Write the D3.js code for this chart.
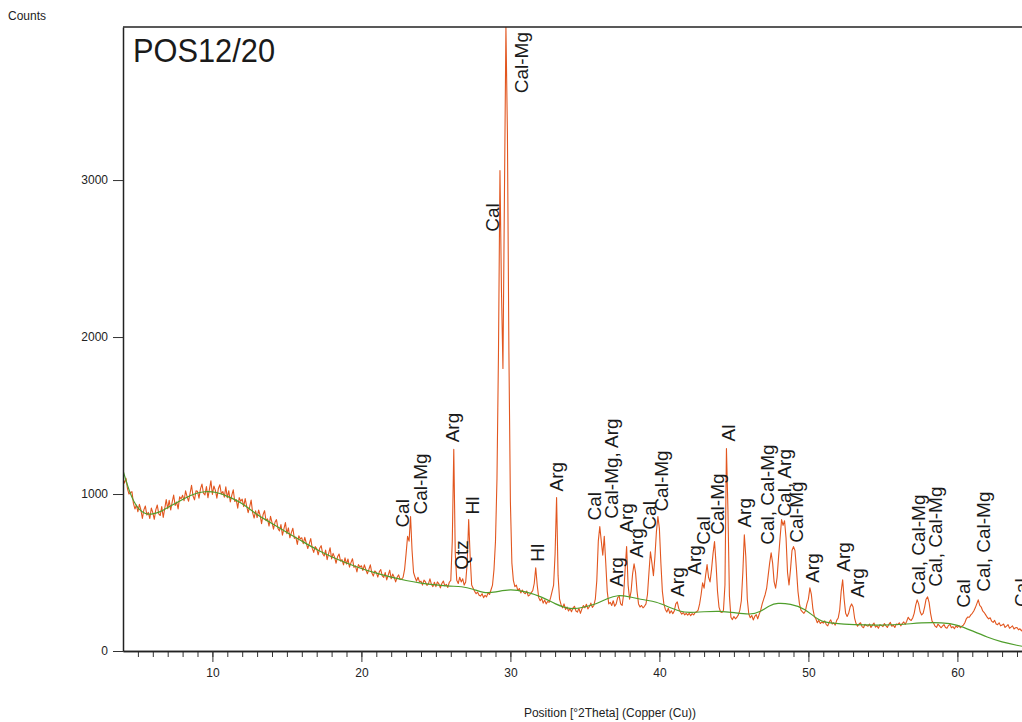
<!DOCTYPE html>
<html>
<head>
<meta charset="utf-8">
<script src="https://cdn.jsdelivr.net/npm/d3@7"></script>
<style>
body { margin: 0; background: #fff; }
svg { display: block; font-family: Arial, "Liberation Sans", sans-serif; }
</style>
</head>
<body>
<svg id="chart" width="1022" height="722"></svg>
<script>
// scan: 4 to 64.9 deg 2theta, step 0.1
var scanStart = 4;
var scanStep = 0.1;
var obsCounts = [
    1095,1070,1100,1035,1000,1010,1015,940,905,930,   // 4
    887,934,900,844,899,924,866,883,844,911,          // 5
    881,839,899,930,873,863,920,851,907,965,          // 6
    906,960,898,948,993,927,949,905,982,969,          // 7
    992,957,1020,984,954,1003,1056,987,963,1020,      // 8
    1017,974,1033,1063,1005,994,1048,976,1029,1084,   // 9
    997,1051,1023,974,1034,1059,1000,1016,980,1046,   // 10
    976,1021,950,991,1027,952,964,910,977,954,        // 11
    967,920,971,923,881,918,961,881,847,893,          // 12
    850,898,866,811,868,894,830,842,796,858,          // 13
    820,776,820,837,781,765,805,738,778,818,          // 14
    747,784,721,754,782,717,726,679,734,714,          // 15
    721,684,724,688,653,684,716,655,628,665,          // 16
    652,613,654,671,620,605,643,582,620,658,          // 17
    587,622,598,559,600,618,573,582,549,593,          // 18
    554,586,534,563,588,533,542,504,551,535,          // 19
    543,513,549,519,492,519,549,498,477,510,          // 20
    501,471,504,519,479,469,500,453,483,515,          // 21
    460,490,470,440,470,485,455,458,470,520,          // 22
    620,730,700,856,640,500,470,445,470,440,          // 23
    445,420,452,440,418,428,460,425,410,438,          // 24
    410,440,428,402,430,446,415,425,405,438,          // 25
    450,700,1285,620,450,430,470,440,460,420,         // 26
    440,560,837,600,420,400,380,365,375,355,          // 27
    350,365,340,355,345,370,360,390,420,520,          // 28
    700,1100,1900,3060,2300,1800,2900,3975,3300,1900, // 29
    950,560,450,410,420,385,398,370,388,372,          // 30
    365,382,350,358,372,385,430,530,420,340,          // 31
    320,335,305,325,300,315,310,340,380,420,          // 32
    620,978,480,330,295,275,300,265,280,255,          // 33
    270,250,275,285,255,248,272,240,268,290,          // 34
    275,298,268,282,305,278,290,330,450,700,          // 35
    792,700,610,730,560,380,300,310,290,320,          // 36
    285,300,340,350,300,290,360,520,665,420,          // 37
    330,380,490,555,500,380,300,280,290,275,          // 38
    285,300,360,500,632,560,480,600,760,856,          // 39
    780,560,380,300,265,248,272,240,256,238,          // 40
    255,300,313,270,250,235,245,230,240,228,          // 41
    240,225,238,230,245,250,260,300,360,434,          // 42
    400,480,550,470,440,520,620,697,560,380,          // 43
    280,250,245,260,420,1290,900,350,215,200,         // 44
    220,205,215,230,260,320,500,741,600,330,          // 45
    236,212,226,198,220,232,205,235,260,300,          // 46
    330,360,400,480,560,626,560,440,400,470,          // 47
    600,720,837,800,830,720,500,420,520,640,          // 48
    665,640,520,380,300,260,250,240,255,300,          // 49
    330,402,360,270,220,205,180,195,175,185,          // 50
    178,192,168,160,185,198,172,180,165,195,          // 51
    210,260,380,454,330,240,220,240,280,300,          // 52
    280,210,175,158,172,180,155,148,170,162,          // 53
    158,172,150,165,178,152,160,145,168,163,          // 54
    155,175,162,150,170,182,158,165,150,172,          // 55
    168,180,160,175,185,170,190,215,200,195,          // 56
    210,240,290,326,300,250,230,240,280,330,          // 57
    345,310,240,190,178,158,150,172,160,148,          // 58
    158,168,150,145,162,170,148,155,142,160,          // 59
    150,162,148,158,165,180,205,217,215,230,          // 60
    240,255,275,300,326,290,280,255,245,230,          // 61
    215,205,212,190,182,195,172,168,180,160,          // 62
    165,172,150,158,168,145,152,160,140,148,          // 63
    150,135,142,128,140,146,125,136,130,122           // 64
];

// background (green)
var bgTheta = [4,4.5,5,5.5,6,6.5,7,7.5,8,8.5,9,9.5,10,10.5,11,11.5,12,12.5,13,13.5,14,15,16,17,18,19,20,21,22,23,24,25,26,26.7,27.5,28.2,29,30,31,32,33,34,35,35.8,36.5,37.2,38,39,39.8,40.5,41.4,42,43,44,45,46.1,46.8,47.4,47.9,48.8,49.7,50.8,51.5,53,55,56.5,57.5,59,60,61,62,63,64,64.9];
var bgCounts = [1150,990,905,870,872,885,915,940,965,990,1008,1016,1015,1005,985,965,940,905,868,840,812,755,700,645,600,560,525,495,470,448,432,420,412,412,395,368,375,395,378,350,300,262,280,300,335,358,345,325,313,285,250,245,250,255,245,230,250,290,307,300,275,185,178,166,163,170,180,182,168,128,88,56,36,20];

// phase labels
var peakNames = ["Cal","Cal-Mg","Arg","Qtz","Hl","Cal","Cal-Mg","Hl","Arg","Cal","Cal-Mg, Arg","Arg","Arg","Arg","Cal","Cal-Mg","Arg","Arg","Cal","Cal-Mg","Al","Arg","Cal, Cal-Mg","Cal, Arg","Cal-Mg","Arg","Arg","Arg","Cal, Cal-Mg","Cal, Cal-Mg","Cal","Cal, Cal-Mg","Cal"];
var peakTheta = [22.75,23.96,26.11,26.71,27.45,28.79,30.74,31.81,33.09,35.64,36.78,37.12,37.79,38.46,39.33,40.13,41.21,42.35,42.96,43.9,44.63,45.7,47.25,48.39,49.2,50.27,52.35,53.29,57.38,58.52,60.4,61.74,64.3];
var peakLevel = [786,869,1329,518,869,2671,3553,569,1016,831,843,409,754,594,773,888,345,486,677,741,1335,786,677,856,690,434,505,339,358,409,275,377,281];

var yTicks = [0, 1000, 2000, 3000];
var xMajor = [10, 20, 30, 40, 50, 60];
var xMinor = d3.range(5, 65);

var svg = d3.select("#chart");

var x = d3.scaleLinear().domain([4, 64.9]).range([123, 1030.4]);
var y = d3.scaleLinear().domain([0, 3975]).range([651, 27]);

svg.append("defs").append("clipPath").attr("id", "plotclip")
    .append("rect")
    .attr("x", 123).attr("y", 27)
    .attr("width", 910).attr("height", 624);

var obs = obsCounts.map(function(c, i) {
    return {t: scanStart + i * scanStep, c: c};
});
var bg = bgTheta.map(function(t, i) {
    return {t: t, c: bgCounts[i]};
});

var plot = svg.append("g").attr("clip-path", "url(#plotclip)");

plot.append("path")
    .datum(obs)
    .attr("fill", "none")
    .attr("stroke", "#e2561f")
    .attr("stroke-width", 1.1)
    .attr("stroke-linejoin", "round")
    .attr("d", d3.line()
        .x(function(d) { return x(d.t); })
        .y(function(d) { return y(d.c); }));

plot.append("path")
    .datum(bg)
    .attr("fill", "none")
    .attr("stroke", "#4f9e2c")
    .attr("stroke-width", 1.2)
    .attr("d", d3.line()
        .curve(d3.curveBasis)
        .x(function(d) { return x(d.t); })
        .y(function(d) { return y(d.c); }));

// axes
var yAxis = svg.append("g")
    .attr("transform", "translate(123,0)")
    .call(d3.axisLeft(y).tickValues(yTicks).tickFormat(d3.format("d"))
        .tickSize(10).tickSizeOuter(0).tickPadding(5));

var xMinorAxis = svg.append("g")
    .attr("transform", "translate(0,651)")
    .call(d3.axisBottom(x).tickValues(xMinor).tickSize(6).tickSizeOuter(0).tickFormat(""));

var xAxis = svg.append("g")
    .attr("transform", "translate(0,651)")
    .call(d3.axisBottom(x).tickValues(xMajor).tickSize(11).tickSizeOuter(0).tickPadding(6));

[yAxis, xMinorAxis, xAxis].forEach(function(g) {
    g.selectAll("path.domain").attr("stroke", "#222").attr("stroke-width", 1.5);
    g.selectAll("line").attr("stroke", "#333");
    g.selectAll("text").attr("fill", "#222").style("font-size", "12px");
});

// top frame line
svg.append("line")
    .attr("x1", 123).attr("x2", 1030)
    .attr("y1", 27).attr("y2", 27)
    .attr("stroke", "#222").attr("stroke-width", 1.5);

// peak labels
svg.append("g").selectAll("text")
    .data(peakNames)
    .enter().append("text")
    .attr("transform", function(d, i) {
        return "translate(" + x(peakTheta[i]) + "," + y(peakLevel[i]) + ") rotate(-90)";
    })
    .attr("dy", "0.35em")
    .attr("text-anchor", "start")
    .attr("fill", "#1a1a1a")
    .style("font-size", "19px")
    .text(function(d) { return d; });

// titles
svg.append("text")
    .attr("x", 133).attr("y", 62)
    .attr("fill", "#1a1a1a")
    .attr("textLength", 142)
    .attr("lengthAdjust", "spacingAndGlyphs")
    .style("font-size", "34px")
    .text("POS12/20");

svg.append("text")
    .attr("x", 8).attr("y", 20)
    .attr("fill", "#222")
    .style("font-size", "12px")
    .text("Counts");

svg.append("text")
    .attr("x", 610).attr("y", 717)
    .attr("text-anchor", "middle")
    .attr("fill", "#222")
    .style("font-size", "12px")
    .text("Position [°2Theta] (Copper (Cu))");
</script>
</body>
</html>
